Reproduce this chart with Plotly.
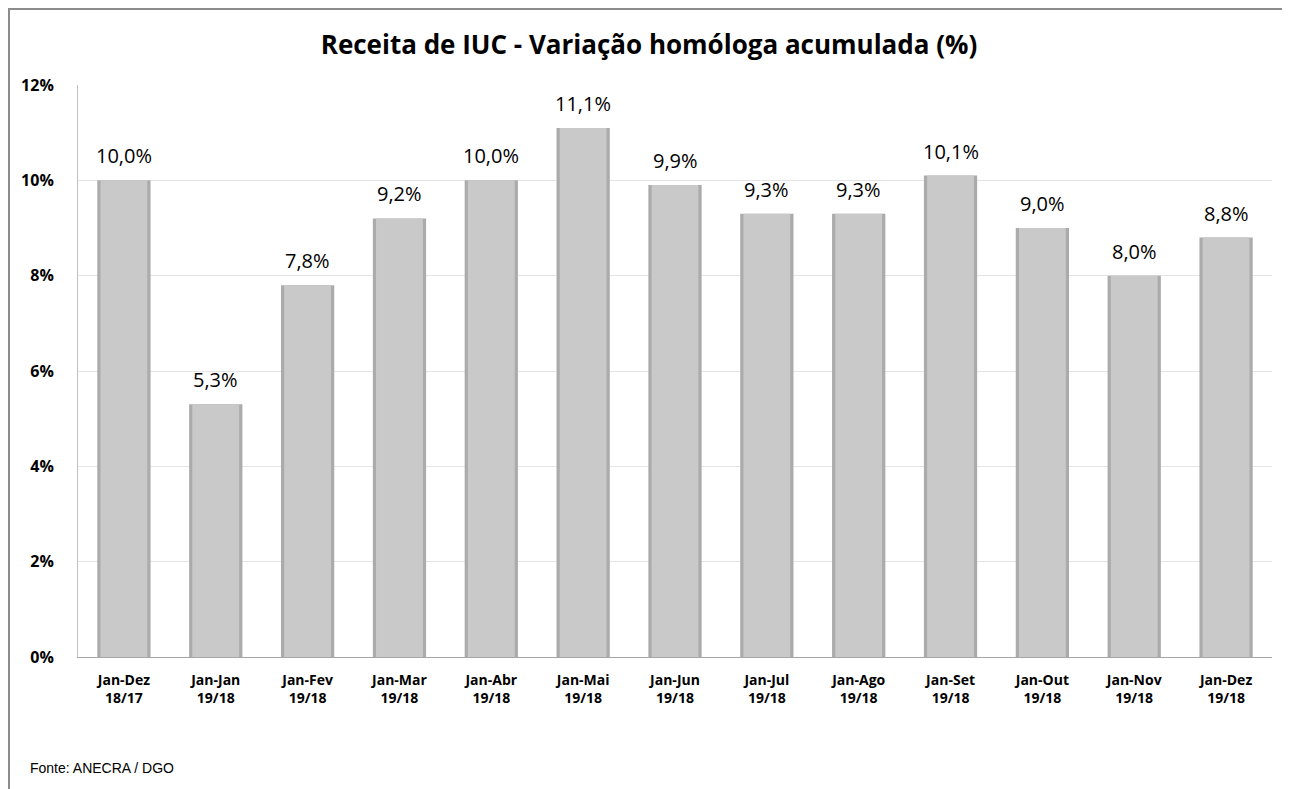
import plotly.graph_objects as go

categories = ["Jan-Dez<br>18/17", "Jan-Jan<br>19/18", "Jan-Fev<br>19/18", "Jan-Mar<br>19/18",
              "Jan-Abr<br>19/18", "Jan-Mai<br>19/18", "Jan-Jun<br>19/18", "Jan-Jul<br>19/18",
              "Jan-Ago<br>19/18", "Jan-Set<br>19/18", "Jan-Out<br>19/18", "Jan-Nov<br>19/18",
              "Jan-Dez<br>19/18"]
values = [10.0, 5.3, 7.8, 9.2, 10.0, 11.1, 9.9, 9.3, 9.3, 10.1, 9.0, 8.0, 8.8]
y_tick_vals = [0, 2, 4, 6, 8, 10, 12]
y_tick_text = ["0%", "2%", "4%", "6%", "8%", "10%", "12%"]
title_text = "Receita de IUC - Variação homóloga acumulada (%)"
source_text = "Fonte: ANECRA / DGO"

PW, PH = 1194, 572  # plot area size in px

fig = go.Figure()
# outer (darker bevel edges)
fig.add_trace(go.Bar(
    x=categories, y=values, width=0.58,
    marker=dict(color="#ababab", line=dict(width=0)),
    hoverinfo="skip", showlegend=False,
))
# inner face
fig.add_trace(go.Bar(
    x=categories, y=values, width=0.51,
    marker=dict(color="#c9c9c9", line=dict(width=0)),
    showlegend=False,
))

label_annotations = [
    dict(x=c, y=v, xref="x", yref="y", text=f"{v:.1f}%".replace(".", ","),
         showarrow=False, yanchor="bottom", xanchor="center", yshift=9,
         font=dict(family="Open Sans", size=20, color="#000000"))
    for c, v in zip(categories, values)
]

fig.update_layout(
    width=1282, height=781,
    barmode="overlay",
    separators=",.",
    paper_bgcolor="white", plot_bgcolor="white",
    margin=dict(l=70, r=18, t=77, b=132, pad=0),
    title=dict(text=title_text, x=0.5, xanchor="center", y=1 - 37 / 781, yanchor="middle",
               font=dict(family="Open Sans", size=26, color="#000000", weight="bold")),
    xaxis=dict(
        showgrid=False, showline=True, linecolor="#a6a6a6", linewidth=1,
        ticks="", tickfont=dict(family="Open Sans", size=14, color="#000000", weight="bold"),
        ticklabelstandoff=10,
    ),
    yaxis=dict(
        range=[0, 12], tickvals=y_tick_vals, ticktext=y_tick_text,
        showgrid=True, gridcolor="#e4e4e4", gridwidth=1,
        showline=True, linecolor="#c0c0c0", linewidth=1,
        zeroline=False, ticks="",
        tickfont=dict(family="Open Sans", size=16, color="#000000", weight="bold"),
        ticklabelstandoff=20,
    ),
    font=dict(family="Open Sans"),
    shapes=[
        dict(type="line", xref="paper", yref="paper", x0=-70 / PW, x1=1.03, y0=1 + 76 / PH, y1=1 + 76 / PH,
             line=dict(color="#8c8c8c", width=2)),
        dict(type="line", xref="paper", yref="paper", x0=-69 / PW, x1=-69 / PW, y0=1 + 76 / PH, y1=-132 / PH,
             line=dict(color="#8c8c8c", width=2)),
    ],
    annotations=label_annotations + [
        dict(text=source_text, xref="paper", yref="paper", x=-50 / PW, y=-111 / PH,
             xanchor="left", yanchor="middle", showarrow=False,
             font=dict(family="Liberation Sans", size=14, color="#000000")),
    ],
)

fig.write_html("out.html")
